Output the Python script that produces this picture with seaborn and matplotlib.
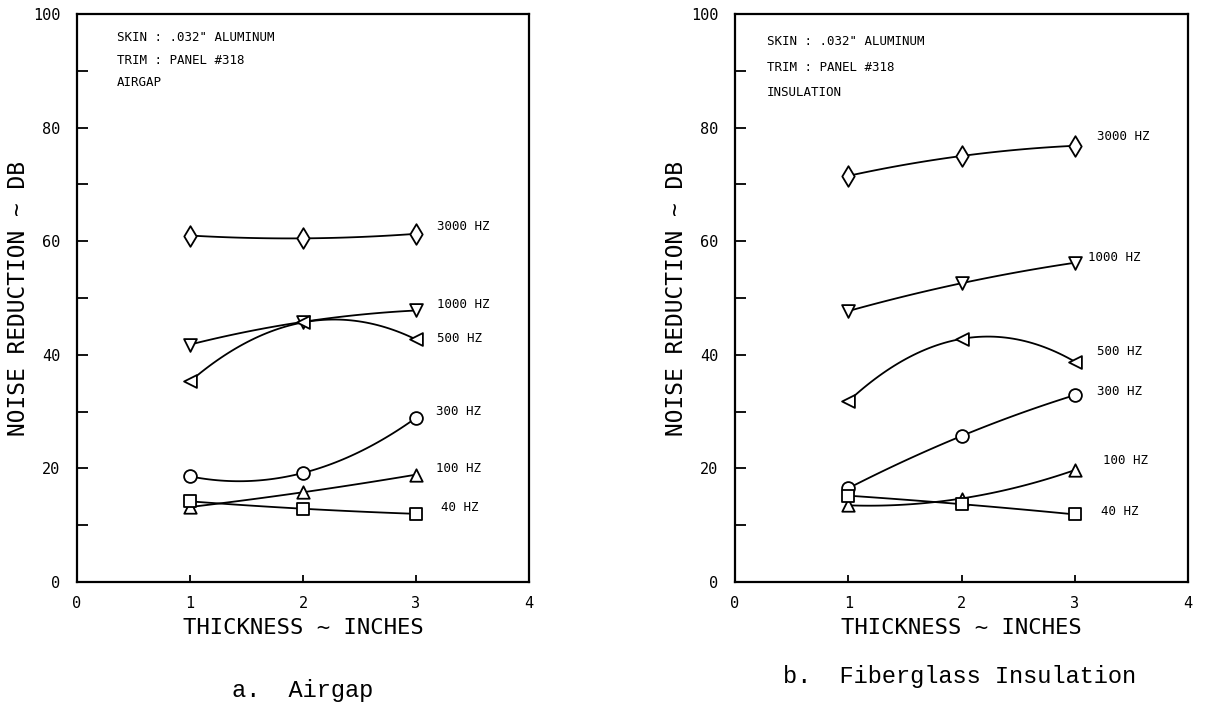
import numpy as np
import pandas as pd
import matplotlib
matplotlib.use("Agg")
import matplotlib.pyplot as plt
import seaborn as sns

# ---------------- data ----------------
thickness = [1, 2, 3]
freqs = ["3000 HZ", "1000 HZ", "500 HZ", "300 HZ", "100 HZ", "40 HZ"]

airgap_3000 = [61.0, 60.5, 61.3]
airgap_1000 = [41.8, 45.8, 47.8]
airgap_500 = [35.3, 45.7, 42.7]
airgap_300 = [18.6, 19.2, 28.9]
airgap_100 = [13.2, 15.8, 18.9]
airgap_40 = [14.2, 12.9, 12.0]

insul_3000 = [71.5, 75.0, 76.8]
insul_1000 = [47.7, 52.6, 56.2]
insul_500 = [31.8, 42.8, 38.8]
insul_300 = [16.5, 25.7, 32.9]
insul_100 = [13.5, 14.7, 19.7]
insul_40 = [15.2, 13.7, 11.9]

x_ticks = [0, 1, 2, 3, 4]
y_ticks = [0, 20, 40, 60, 80, 100]
y_minor = [10, 30, 50, 70, 90]

note_a = ['SKIN : .032" ALUMINUM', "TRIM : PANEL #318", "AIRGAP"]
note_b = ['SKIN : .032" ALUMINUM', "TRIM : PANEL #318", "INSULATION"]
caption_a = "a.  Airgap"
caption_b = "b.  Fiberglass Insulation"
xlabel = "THICKNESS ~ INCHES"
ylabel = "NOISE REDUCTION ~ DB"

# ---------------- styling ----------------
sns.set_theme(style="white")
MONO = ["DejaVu Sans Mono"]
plt.rcParams["font.family"] = MONO
plt.rcParams["text.color"] = "black"
plt.rcParams["axes.labelcolor"] = "black"
plt.rcParams["xtick.color"] = "black"
plt.rcParams["ytick.color"] = "black"

marker_map = {"3000 HZ": "d", "1000 HZ": "v", "500 HZ": "<",
              "300 HZ": "o", "100 HZ": "^", "40 HZ": "s"}
marker_size = {"3000 HZ": 110, "1000 HZ": 85, "500 HZ": 85,
               "300 HZ": 85, "100 HZ": 80, "40 HZ": 70}

# label positions (x, y in data units)
label_a = {"3000 HZ": (3.19, 62.5), "1000 HZ": (3.19, 48.8), "500 HZ": (3.19, 42.8),
           "300 HZ": (3.18, 30.1), "100 HZ": (3.18, 20.0), "40 HZ": (3.22, 13.1)}
label_b = {"3000 HZ": (3.2, 78.4), "1000 HZ": (3.12, 57.2), "500 HZ": (3.2, 40.5),
           "300 HZ": (3.2, 33.5), "100 HZ": (3.25, 21.4), "40 HZ": (3.23, 12.4)}


def make_df(series):
    rows = []
    for f, vals in zip(freqs, series):
        for xv, yv in zip(thickness, vals):
            rows.append({"x": xv, "y": yv, "freq": f})
    return pd.DataFrame(rows)


def draw_panel(ax, series, labels, notes, note_x, note_ys):
    df = make_df(series)
    # smooth curves through the three readings
    for f, vals in zip(freqs, series):
        coef = np.polyfit(thickness, vals, 2)
        xs = np.linspace(thickness[0], thickness[-1], 60)
        cdf = pd.DataFrame({"x": xs, "y": np.polyval(coef, xs)})
        sns.lineplot(data=cdf, x="x", y="y", ax=ax, color="black",
                     linewidth=1.3, zorder=2, estimator=None, sort=False)
    for f in freqs:
        sub = df[df["freq"] == f]
        sns.scatterplot(data=sub, x="x", y="y", ax=ax, marker=marker_map[f],
                        s=marker_size[f], color="white", edgecolor="black",
                        linewidth=1.3, zorder=3, legend=False)
    for f in freqs:
        lx, ly = labels[f]
        ax.text(lx, ly, f, fontsize=9, va="center", ha="left", family=MONO)
    for t, yy in zip(notes, note_ys):
        ax.text(note_x, yy, t, fontsize=9, va="center", ha="left", family=MONO)

    ax.set_xlim(0, 4)
    ax.set_ylim(0, 100)
    ax.set_xticks(x_ticks)
    ax.set_xticklabels([str(v) for v in x_ticks])
    ax.set_yticks(y_ticks)
    ax.set_yticklabels([str(v) for v in y_ticks])
    ax.set_yticks(y_minor, minor=True)
    ax.tick_params(axis="y", which="both", direction="in", length=8, width=1.3,
                   left=True, pad=12, labelsize=11)
    ax.tick_params(axis="x", which="major", direction="in", length=5, width=1.3,
                   bottom=True, pad=10, labelsize=11)
    for sp in ax.spines.values():
        sp.set_linewidth(1.6)
        sp.set_color("black")
    ax.set_xlabel(xlabel, fontsize=16, labelpad=5)
    ax.set_ylabel(ylabel, fontsize=16.5, labelpad=2)


fig = plt.figure(figsize=(12.05, 7.03), dpi=100)
W, H = 1205, 703
ax_a = fig.add_axes([77 / W, 1 - 582 / H, (529 - 77) / W, (582 - 14) / H])
ax_b = fig.add_axes([735 / W, 1 - 582 / H, (1188 - 735) / W, (582 - 14) / H])

draw_panel(ax_a, [airgap_3000, airgap_1000, airgap_500, airgap_300, airgap_100, airgap_40],
           label_a, note_a, 0.35, [95.8, 91.9, 87.9])
draw_panel(ax_b, [insul_3000, insul_1000, insul_500, insul_300, insul_100, insul_40],
           label_b, note_b, 0.28, [95.1, 90.5, 86.1])

fig.text(303 / W, 1 - 690 / H, caption_a, fontsize=17, ha="center", va="center",
         family=["Liberation Mono"])
fig.text(960 / W, 1 - 677 / H, caption_b, fontsize=17, ha="center", va="center",
         family=["Liberation Mono"])

fig.savefig("out.png", dpi=100, facecolor="white")
